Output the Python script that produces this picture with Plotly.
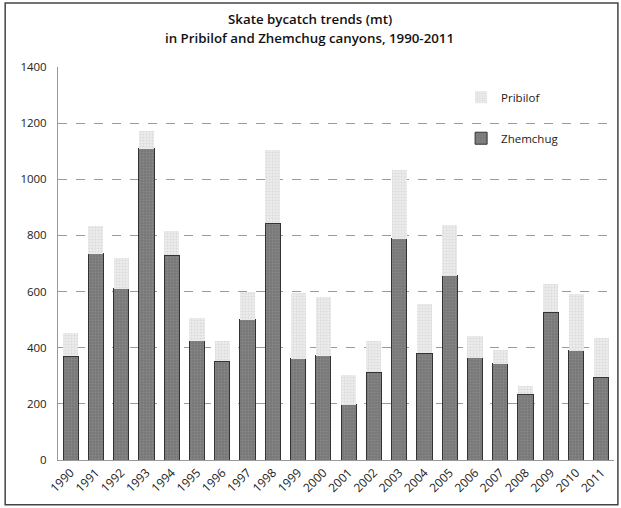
import plotly.graph_objects as go

years = [str(y) for y in range(1990, 2012)]
zhemchug = [369, 735, 610, 1109, 729, 425, 351, 500, 843, 361, 371,
            196, 313, 788, 381, 657, 365, 343, 235, 527, 390, 295]
pribilof = [85, 97, 111, 64, 86, 81, 72, 100, 260, 235, 210,
            108, 110, 245, 173, 180, 78, 50, 27, 100, 200, 140]
y_ticks = [0, 200, 400, 600, 800, 1000, 1200, 1400]
title_lines = ["Skate bycatch trends (mt)",
               "in Pribilof and Zhemchug canyons, 1990-2011"]

FONT = "Open Sans"

fig = go.Figure()
fig.add_trace(go.Bar(
    x=years, y=zhemchug, name="Zhemchug", legendgroup="b", legendrank=2,
    marker=dict(color="#787878", line=dict(color="#333333", width=1),
                pattern=dict(shape=".", fgcolor="#9a9a9a", size=3, solidity=0.3)),
))
fig.add_trace(go.Bar(
    x=years, y=pribilof, name="Pribilof", legendgroup="a", legendrank=1,
    marker=dict(color="#ececec", line=dict(width=0),
                pattern=dict(shape=".", fgcolor="#c8c8c8", size=3, solidity=0.35)),
))

# two-line heading, centred on the whole chart frame
title_y = [1.122, 1.074]
annotations = [
    dict(text=t, x=0.453, y=yy, xref="paper", yref="paper",
         xanchor="center", yanchor="middle", showarrow=False,
         font=dict(family=FONT, size=13.3, color="#111111", weight=600))
    for t, yy in zip(title_lines, title_y)
]

fig.update_layout(
    width=621, height=508,
    margin=dict(l=58, r=7, t=67, b=48),
    paper_bgcolor="white", plot_bgcolor="white",
    barmode="stack", bargap=0.4,
    font=dict(family=FONT, size=11, color="#222222"),
    annotations=annotations,
    legend=dict(
        x=0.725, y=0.96, xanchor="left", yanchor="top",
        traceorder="grouped", tracegroupgap=22,
        bgcolor="rgba(0,0,0,0)", font=dict(size=11.5, color="#222222"),
        itemwidth=30,
    ),
    showlegend=True,
    xaxis=dict(
        type="category", tickangle=-45, showgrid=False,
        showline=True, linecolor="#999999", linewidth=1,
        ticks="", tickfont=dict(size=12, color="#222222"),
    ),
    yaxis=dict(
        range=[0, 1400], tickvals=y_ticks,
        showgrid=True, gridcolor="#9a9a9a", griddash="dash", gridwidth=1,
        showline=True, linecolor="#999999", linewidth=1,
        ticks="", tickfont=dict(size=11.5, color="#222222"), ticklabelstandoff=8,
        zeroline=False,
    ),
    shapes=[dict(
        type="rect", xref="paper", yref="paper",
        x0=-0.095, x1=1.007, y0=-0.114, y1=1.163,
        line=dict(color="#444444", width=1.5), fillcolor="rgba(0,0,0,0)",
        layer="below",
    )],
)

fig.write_html("out.html")
